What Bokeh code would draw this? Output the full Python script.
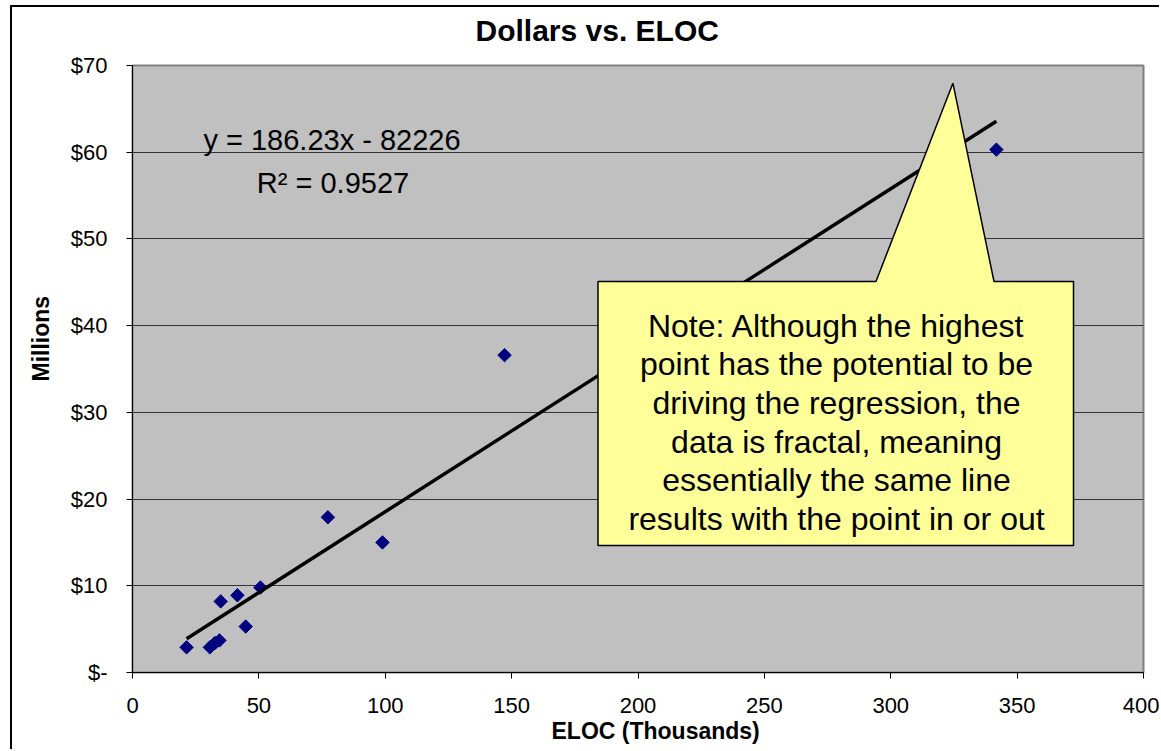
import numpy as np
from bokeh.plotting import figure
from bokeh.models import Range1d, FixedTicker, Label, Title
from bokeh.embed import file_html
from bokeh.resources import INLINE

# ---- data -------------------------------------------------------------
eloc_thousands = [21.4, 30.6, 32.6, 34.4, 34.9, 41.5, 44.8, 50.6, 77.3, 98.9, 147.2, 341.8]
dollars_millions = [2.9, 2.9, 3.4, 3.7, 8.2, 8.9, 5.3, 9.8, 17.9, 15.0, 36.6, 60.3]

trend_slope = 186.23       # dollars per line of code
trend_intercept = -82226   # dollars
r_squared = 0.9527

x_ticks = [0, 50, 100, 150, 200, 250, 300, 350, 400]
x_tick_labels = ["0", "50", "100", "150", "200", "250", "300", "350", "400"]
y_ticks = [0, 10, 20, 30, 40, 50, 60, 70]
y_tick_labels = ["$-", "$10", "$20", "$30", "$40", "$50", "$60", "$70"]

title_text = "Dollars vs. ELOC"
x_title = "ELOC (Thousands)"
y_title = "Millions"
note_lines = [
    "Note: Although the highest",
    "point has the potential to be",
    "driving the regression, the",
    "data is fractal, meaning",
    "essentially the same line",
    "results with the point in or out",
]

# ---- layout ------------------------------------------------------------
PAGE_W, PAGE_H = 1161, 751
OX, OY = 12, 7                         # chart border offset on the page
W, H = PAGE_W - OX, PAGE_H - OY        # canvas size
FL, FR, FT, FB = 132, 1143, 65, 672    # plot frame edges on the page
X0, X1, Y0, Y1 = 0, 400, 0, 70
FONT = "Liberation Sans"


def dx(px):
    return X0 + (px - FL) * (X1 - X0) / (FR - FL)


def dy(py):
    return Y0 + (FB - py) * (Y1 - Y0) / (FB - FT)


p = figure(width=W, height=H, output_backend="svg", toolbar_location=None,
           x_range=Range1d(X0, X1), y_range=Range1d(Y0, Y1),
           min_border_left=FL - OX, min_border_right=PAGE_W - FR,
           min_border_top=FT - OY, min_border_bottom=PAGE_H - FB)
p.styles = {"margin-left": f"{OX - 2}px", "margin-top": f"{OY - 2}px",
            "border-left": "2px solid black", "border-top": "2px solid black"}

p.background_fill_color = "#C0C0C0"
p.border_fill_color = "white"
p.outline_line_color = "#808080"
p.outline_line_width = 2

p.xgrid.visible = False
p.ygrid.ticker = FixedTicker(ticks=y_ticks)
p.ygrid.grid_line_color = "#333333"
p.ygrid.grid_line_width = 1

for ax, ticks, labels in ((p.xaxis[0], x_ticks, x_tick_labels),
                          (p.yaxis[0], y_ticks, y_tick_labels)):
    ax.ticker = FixedTicker(ticks=ticks)
    ax.major_label_overrides = {t: s for t, s in zip(ticks, labels)}
    ax.minor_tick_line_color = None
    ax.major_tick_in = 0
    ax.major_tick_out = 6
    ax.axis_line_color = "black"
    ax.major_tick_line_color = "black"
    ax.major_label_text_font = FONT
    ax.major_label_text_font_size = "22px"
    ax.major_label_text_color = "black"

p.xaxis.major_label_standoff = 19
p.yaxis.major_label_standoff = 19

# ---- series --------------------------------------------------------------
p.scatter(eloc_thousands, dollars_millions, marker="square", size=9.5,
          angle=np.pi / 4, fill_color="#000080", line_color="#000080")

# linear trend line over the range of the data
tx = np.array([min(eloc_thousands), max(eloc_thousands)])
ty = (trend_slope * tx * 1000 + trend_intercept) / 1e6
p.line(tx, ty, line_color="black", line_width=3.5)

# ---- callout ---------------------------------------------------------------
box_l, box_r, box_t, box_b = dx(597.5), dx(1073), dy(281), dy(545)
ptr_l, ptr_tip_x, ptr_tip_y, ptr_r = dx(875.5), dx(952.4), dy(82.7), dx(993.5)
p.patch([box_l, ptr_l, ptr_tip_x, ptr_r, box_r, box_r, box_l],
        [box_t, box_t, ptr_tip_y, box_t, box_t, box_b, box_b],
        fill_color="#FFFF99", line_color="black", line_width=1.5)

for i, line in enumerate(note_lines):
    p.add_layout(Label(x=dx(836), y=dy(325 + 38.7 * i), text=line,
                       text_align="center", text_baseline="alphabetic",
                       text_font=FONT, text_font_size="32px", text_color="black"))

# ---- trend equation ---------------------------------------------------------
eq_text = f"y = {trend_slope}x - {abs(trend_intercept)}"
r2_text = f"R\u00b2 = {r_squared}"
p.add_layout(Label(x=dx(331.5), y=dy(139.3), text=eq_text, text_align="center",
                   text_baseline="alphabetic", text_font=FONT,
                   text_font_size="29px", text_color="black"))
p.add_layout(Label(x=dx(332.5), y=dy(182.7), text=r2_text, text_align="center",
                   text_baseline="alphabetic", text_font=FONT,
                   text_font_size="29px", text_color="black"))

# ---- titles ----------------------------------------------------------------
p.title = Title(text=title_text, align="left", offset=475 - FL,
                vertical_align="top", padding=(0, 0, 0, 14),
                text_font=FONT, text_font_size="30px", text_font_style="bold",
                text_color="black", standoff=6)
p.add_layout(Title(text=x_title, align="left", offset=551 - FL,
                   text_font=FONT, text_font_size="23px", text_font_style="bold",
                   text_color="black", standoff=0), "below")
p.add_layout(Title(text=y_title, align="left", offset=FB - 381,
                   vertical_align="top",
                   text_font=FONT, text_font_size="23px", text_font_style="bold",
                   text_color="black", standoff=24), "left")

open("out.html", "w").write(file_html(p, INLINE))
